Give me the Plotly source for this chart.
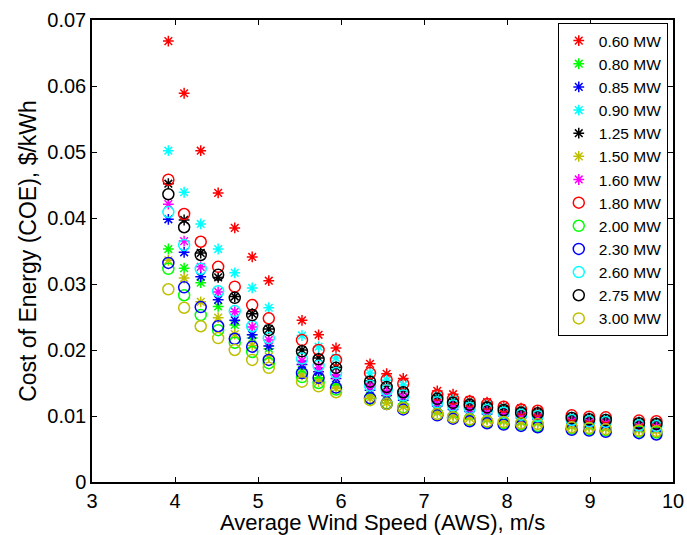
import plotly.graph_objects as go

# Average wind speed at each site (m/s)
aws = [3.92, 4.11, 4.31, 4.52, 4.72, 4.93, 5.13, 5.53, 5.73, 5.94, 6.35, 6.55, 6.75,
       7.16, 7.35, 7.55, 7.76, 7.96, 8.17, 8.37, 8.78, 8.99, 9.19, 9.59, 9.80]

# Cost of energy ($/kWh) for each turbine rating
coe_060 = [0.0668, 0.0589, 0.0502, 0.0438, 0.0385, 0.0341, 0.0305, 0.0245, 0.0223, 0.0203, 0.0179, 0.0164, 0.0157,
           0.0138, 0.0133, 0.0124, 0.0121, 0.0115, 0.0112, 0.0107, 0.0098, 0.0097, 0.0095, 0.0091, 0.0090]
coe_080 = [0.0353, 0.0324, 0.0302, 0.0266, 0.0238, 0.0218, 0.0202, 0.0170, 0.0158, 0.0147, 0.0131, 0.0124, 0.0118,
           0.0108, 0.0103, 0.0100, 0.0096, 0.0094, 0.0092, 0.0091, 0.0086, 0.0085, 0.0083, 0.0081, 0.0080]
coe_085 = [0.0398, 0.0348, 0.0311, 0.0276, 0.0245, 0.0223, 0.0206, 0.0178, 0.0167, 0.0157, 0.0139, 0.0131, 0.0124,
           0.0115, 0.0110, 0.0107, 0.0103, 0.0100, 0.0097, 0.0095, 0.0089, 0.0088, 0.0086, 0.0083, 0.0082]
coe_090 = [0.0502, 0.0439, 0.0391, 0.0353, 0.0317, 0.0294, 0.0264, 0.0222, 0.0205, 0.0188, 0.0165, 0.0154, 0.0147,
           0.0130, 0.0125, 0.0120, 0.0116, 0.0112, 0.0108, 0.0106, 0.0099, 0.0097, 0.0096, 0.0091, 0.0090]
coe_125 = [0.0452, 0.0397, 0.0347, 0.0310, 0.0281, 0.0255, 0.0232, 0.0200, 0.0188, 0.0174, 0.0153, 0.0145, 0.0137,
           0.0127, 0.0121, 0.0118, 0.0114, 0.0110, 0.0106, 0.0105, 0.0098, 0.0096, 0.0095, 0.0090, 0.0089]
coe_150 = [0.0336, 0.0309, 0.0273, 0.0249, 0.0224, 0.0207, 0.0190, 0.0162, 0.0152, 0.0142, 0.0127, 0.0120, 0.0114,
           0.0105, 0.0100, 0.0097, 0.0094, 0.0092, 0.0090, 0.0089, 0.0084, 0.0083, 0.0081, 0.0079, 0.0078]
coe_160 = [0.0421, 0.0365, 0.0326, 0.0288, 0.0258, 0.0235, 0.0215, 0.0184, 0.0173, 0.0162, 0.0144, 0.0136, 0.0129,
           0.0119, 0.0114, 0.0110, 0.0107, 0.0103, 0.0100, 0.0098, 0.0092, 0.0090, 0.0089, 0.0084, 0.0083]
coe_180 = [0.0458, 0.0406, 0.0364, 0.0326, 0.0296, 0.0268, 0.0248, 0.0215, 0.0200, 0.0185, 0.0165, 0.0155, 0.0149,
           0.0132, 0.0126, 0.0122, 0.0118, 0.0114, 0.0110, 0.0108, 0.0101, 0.0099, 0.0098, 0.0093, 0.0092]
coe_200 = [0.0323, 0.0283, 0.0253, 0.0230, 0.0211, 0.0197, 0.0180, 0.0159, 0.0150, 0.0140, 0.0126, 0.0119, 0.0113,
           0.0103, 0.0098, 0.0094, 0.0091, 0.0089, 0.0087, 0.0085, 0.0081, 0.0080, 0.0078, 0.0076, 0.0075]
coe_230 = [0.0332, 0.0295, 0.0265, 0.0236, 0.0217, 0.0205, 0.0185, 0.0165, 0.0158, 0.0143, 0.0127, 0.0118, 0.0110,
           0.0101, 0.0096, 0.0092, 0.0089, 0.0087, 0.0085, 0.0083, 0.0079, 0.0078, 0.0076, 0.0074, 0.0072]
coe_260 = [0.0409, 0.0359, 0.0323, 0.0289, 0.0259, 0.0236, 0.0218, 0.0187, 0.0176, 0.0165, 0.0146, 0.0139, 0.0131,
           0.0121, 0.0116, 0.0112, 0.0109, 0.0105, 0.0102, 0.0100, 0.0094, 0.0092, 0.0091, 0.0086, 0.0085]
coe_275 = [0.0436, 0.0386, 0.0344, 0.0314, 0.0279, 0.0253, 0.0230, 0.0198, 0.0186, 0.0173, 0.0152, 0.0144, 0.0136,
           0.0126, 0.0120, 0.0117, 0.0113, 0.0109, 0.0105, 0.0104, 0.0097, 0.0095, 0.0094, 0.0089, 0.0088]
coe_300 = [0.0292, 0.0264, 0.0236, 0.0218, 0.0200, 0.0185, 0.0173, 0.0152, 0.0145, 0.0136, 0.0124, 0.0118, 0.0112,
           0.0103, 0.0098, 0.0095, 0.0092, 0.0091, 0.0089, 0.0088, 0.0083, 0.0082, 0.0080, 0.0078, 0.0077]

labels = ["0.60 MW", "0.80 MW", "0.85 MW", "0.90 MW", "1.25 MW", "1.50 MW", "1.60 MW",
          "1.80 MW", "2.00 MW", "2.30 MW", "2.60 MW", "2.75 MW", "3.00 MW"]
series = [coe_060, coe_080, coe_085, coe_090, coe_125, coe_150, coe_160,
          coe_180, coe_200, coe_230, coe_260, coe_275, coe_300]
colors = ["#FF0000", "#00FF00", "#0000FF", "#00FFFF", "#000000", "#BFBF00", "#FF00FF",
          "#FF0000", "#00FF00", "#0000FF", "#00FFFF", "#000000", "#BFBF00"]
symbols = ["asterisk-open"] * 7 + ["circle-open"] * 6

y_ticks = [0, 0.01, 0.02, 0.03, 0.04, 0.05, 0.06, 0.07]
y_ticktext = ["0", "0.01", "0.02", "0.03", "0.04", "0.05", "0.06", "0.07"]

x_title = "Average Wind Speed (AWS), m/s"
y_title = "Cost of Energy (COE), $/kWh"

fig = go.Figure()
for name, vals, col, sym in zip(labels, series, colors, symbols):
    size = 9 if sym == "asterisk-open" else 11
    fig.add_trace(go.Scatter(
        x=aws, y=vals, mode="markers", name=name,
        marker=dict(symbol=sym, size=size, color=col,
                    line=dict(color=col, width=1.5)),
    ))

axis_common = dict(
    showline=True, linecolor="black", linewidth=1.5, mirror="ticks",
    ticks="inside", ticklen=5, tickwidth=1, tickcolor="black",
    showgrid=False, zeroline=False, automargin=False,
    tickfont=dict(family="Liberation Sans, Arial, sans-serif", size=20, color="black"),
)

fig.update_layout(
    width=687, height=535,
    margin=dict(l=92, r=14, t=20, b=53),
    paper_bgcolor="white", plot_bgcolor="white",
    font=dict(family="Liberation Sans, Arial, sans-serif", color="black"),
    xaxis=dict(range=[3, 10], dtick=1, tick0=3, **axis_common),
    yaxis=dict(range=[0, 0.07], tickvals=y_ticks, ticktext=y_ticktext,
               title=dict(text=y_title, font=dict(size=23, color="black"), standoff=4),
               **axis_common),
    legend=dict(x=0.991, y=0.9935, xanchor="right", yanchor="top",
                bgcolor="white", bordercolor="black", borderwidth=1,
                font=dict(size=15.5, color="black"), tracegroupgap=0,
                itemwidth=30),
    showlegend=True,
)

# x-axis title sits just above the bottom edge of the page
fig.add_annotation(text=x_title, xref="paper", yref="paper", x=0.5, y=0,
                   xanchor="center", yanchor="middle", yshift=-40, showarrow=False,
                   font=dict(size=22, color="black"))

fig.write_html("out.html")
